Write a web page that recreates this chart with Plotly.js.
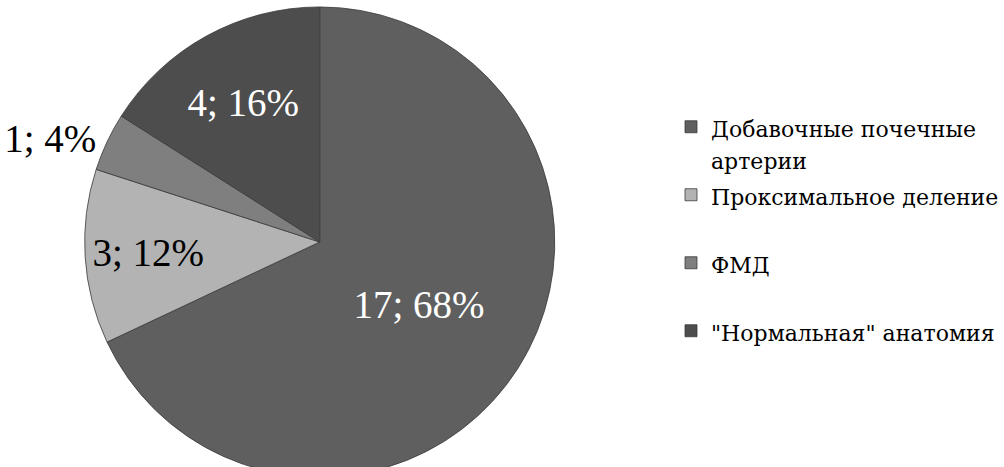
<!DOCTYPE html>
<html>
<head>
<meta charset="utf-8">
<script src="https://cdn.plot.ly/plotly-3.0.1.min.js"></script>
<style>
html,body{margin:0;padding:0;background:#fff;overflow:hidden;}
#chart{width:1004px;height:480px;}
</style>
</head>
<body>
<div id="chart"></div>
<script>
const categories = ['Добавочные почечные', 'Проксимальное деление', 'ФМД', '"Нормальная" анатомия'];
const categoryLines2 = ['артерии', ' ', ' ', ' '];
const counts = [17, 3, 1, 4];
const sliceColors = ['#5f5f5f', '#b3b3b3', '#7f7f7f', '#4d4d4d'];
const textColors = ['#ffffff', '#000000', '#000000', '#ffffff'];
const textPositions = ['inside', 'inside', 'outside', 'inside'];

const W = 1004, H = 480;
const cx = 321, cy = 242, r = 236;
const SERIF = "'Liberation Serif', 'Times New Roman', serif";
const LEGEND_SERIF = "'DejaVu Serif', serif";

const legendLabels = categories.map((c, i) =>
  '<span style="font-size:22px">' + c + '</span><br><span style="font-size:22px">' + categoryLines2[i] + '</span>');

const trace = {
  type: 'pie',
  labels: legendLabels,
  values: counts,
  sort: false,
  direction: 'clockwise',
  rotation: 0,
  marker: {colors: sliceColors, line: {color: '#3a3a3a', width: 0.8}},
  texttemplate: '%{value}; %{percent:.0%}',
  textposition: textPositions,
  insidetextorientation: 'horizontal',
  textfont: {family: SERIF, size: 39, color: textColors},
  outsidetextfont: {family: SERIF, size: 39, color: '#000000'},
  hoverinfo: 'none',
  domain: {x: [(cx - r) / W, (cx + r) / W], y: [(H - cy - r) / H, (H - cy + r) / H]}
};

const layout = {
  width: W, height: H,
  margin: {l: 0, r: 0, t: 0, b: 0},
  paper_bgcolor: '#ffffff',
  showlegend: true,
  legend: {
    x: 674 / W, y: 1 - 104 / H, xanchor: 'left', yanchor: 'top',
    valign: 'top',
    font: {family: LEGEND_SERIF, size: 25, color: '#000000'},
    itemwidth: 30
  }
};

Plotly.newPlot('chart', [trace], layout, {staticPlot: true});
</script>
</body>
</html>
